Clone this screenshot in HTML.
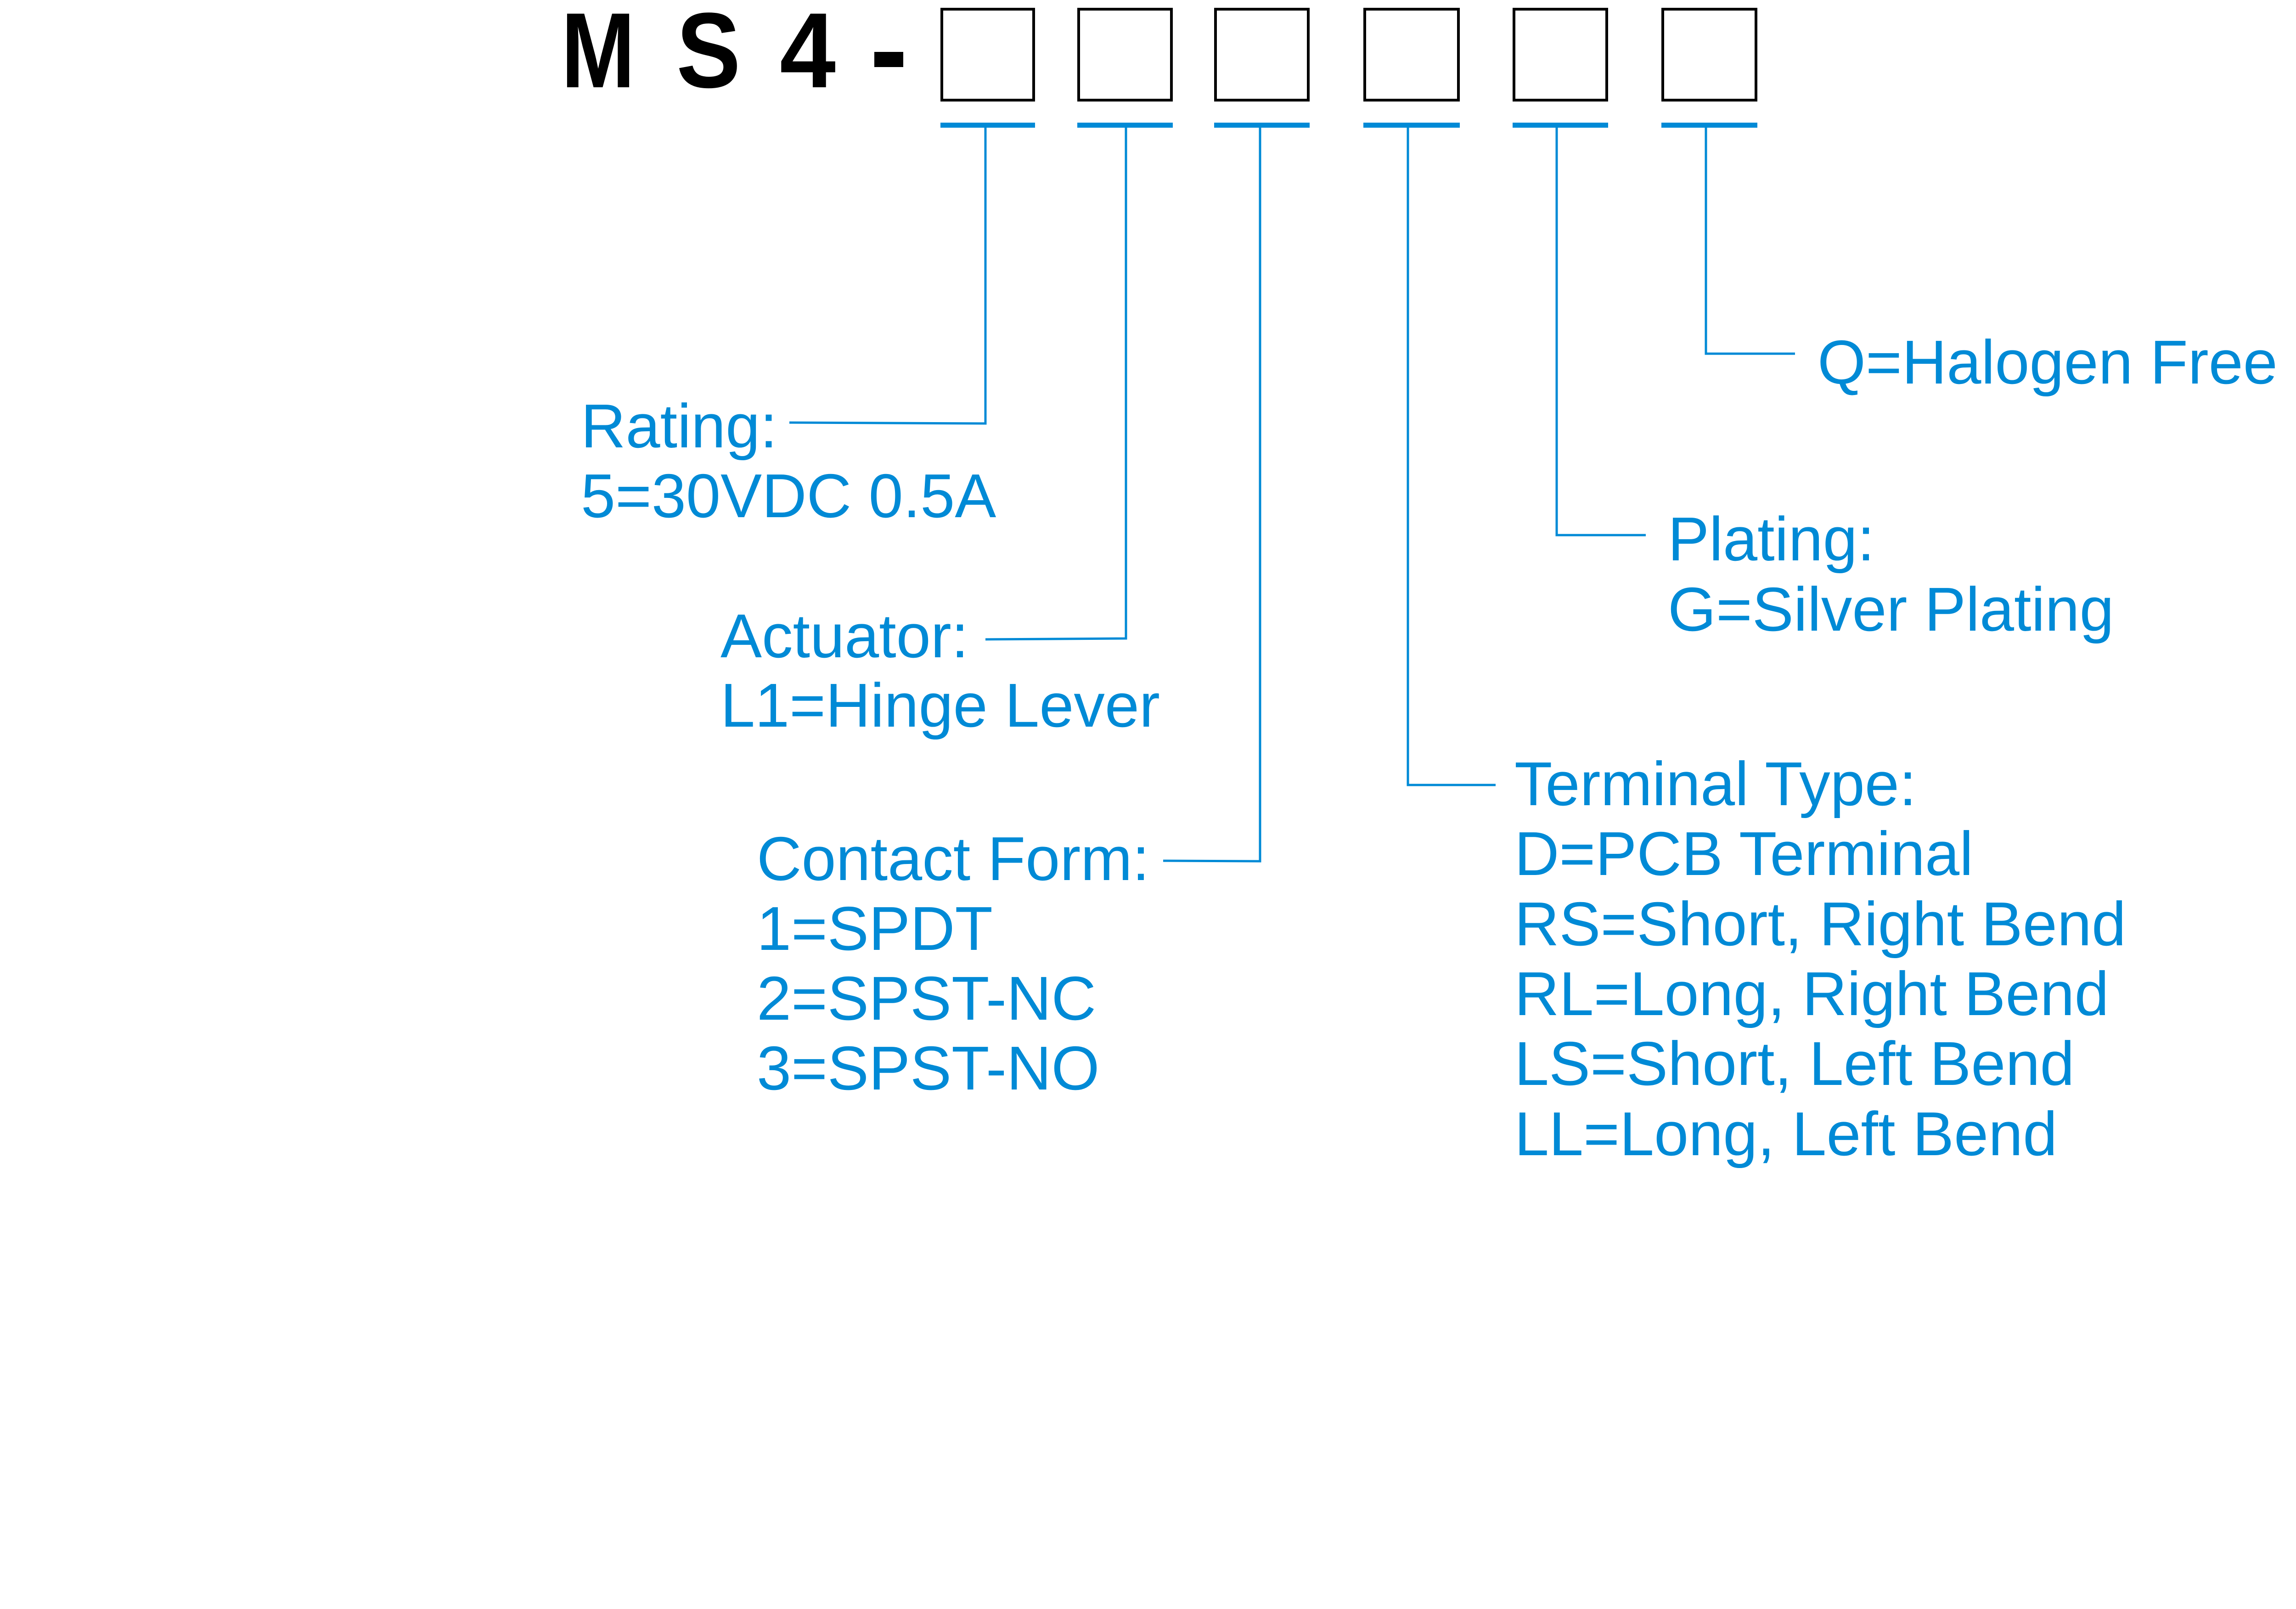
<!DOCTYPE html>
<html><head><meta charset="utf-8"><style>html,body{margin:0;padding:0;background:#fff}svg{display:block}</style></head>
<body>
<svg xmlns="http://www.w3.org/2000/svg" width="5035" height="3503" viewBox="0 0 5035 3503">
<rect width="5035" height="3503" fill="#fff"/>
<g font-family="Liberation Sans, Arial, sans-serif" font-weight="bold" font-size="233" fill="#000">
<text x="1222" y="190" textLength="161" lengthAdjust="spacingAndGlyphs">M</text>
<text x="1473" y="190" textLength="140" lengthAdjust="spacingAndGlyphs">S</text>
<text x="1698" y="190" textLength="122" lengthAdjust="spacingAndGlyphs">4</text>
</g>
<rect x="1904" y="113" width="63" height="33" fill="#000"/>
<g fill="none" stroke="#000" stroke-width="6">
<rect x="2051" y="20" width="200" height="198"/>
<rect x="2349" y="20" width="202" height="198"/>
<rect x="2647" y="20" width="202" height="198"/>
<rect x="2972" y="20" width="204" height="198"/>
<rect x="3297" y="20" width="202" height="198"/>
<rect x="3621" y="20" width="203" height="198"/>
</g>
<g fill="#008ad6">
<rect x="2048" y="267" width="206" height="11"/>
<rect x="2346" y="267" width="208" height="11"/>
<rect x="2644" y="267" width="208" height="11"/>
<rect x="2969" y="267" width="210" height="11"/>
<rect x="3294" y="267" width="208" height="11"/>
<rect x="3618" y="267" width="209" height="11"/>
</g>
<g fill="none" stroke="#008ad6" stroke-width="5">
<polyline points="2146,278 2146,922 1719,920"/>
<polyline points="2452,278 2452,1390 2146,1392"/>
<polyline points="2744,278 2744,1875 2533,1874"/>
<polyline points="3066,278 3066,1709 3257,1709"/>
<polyline points="3390,278 3390,1165 3584,1165"/>
<polyline points="3715,278 3715,770 3909,770"/>
</g>
<g font-family="Liberation Sans, Arial, sans-serif" font-size="135" fill="#008ad6">
<text x="1265" y="974">Rating:</text>
<text x="1265" y="1126">5=30VDC 0.5A</text>
<text x="1569" y="1431">Actuator:</text>
<text x="1569" y="1582">L1=Hinge Lever</text>
<text x="1648" y="1916">Contact Form:</text>
<text x="1648" y="2068">1=SPDT</text>
<text x="1648" y="2220">2=SPST-NC</text>
<text x="1648" y="2372">3=SPST-NO</text>
<text x="3298" y="1753">Terminal Type:</text>
<text x="3298" y="1905">D=PCB Terminal</text>
<text x="3298" y="2058">RS=Short, Right Bend</text>
<text x="3298" y="2210">RL=Long, Right Bend</text>
<text x="3298" y="2362">LS=Short, Left Bend</text>
<text x="3298" y="2515">LL=Long, Left Bend</text>
<text x="3632" y="1220">Plating:</text>
<text x="3632" y="1373">G=Silver Plating</text>
<text x="3958" y="835">Q=Halogen Free</text>
</g>
</svg>
</body></html>
